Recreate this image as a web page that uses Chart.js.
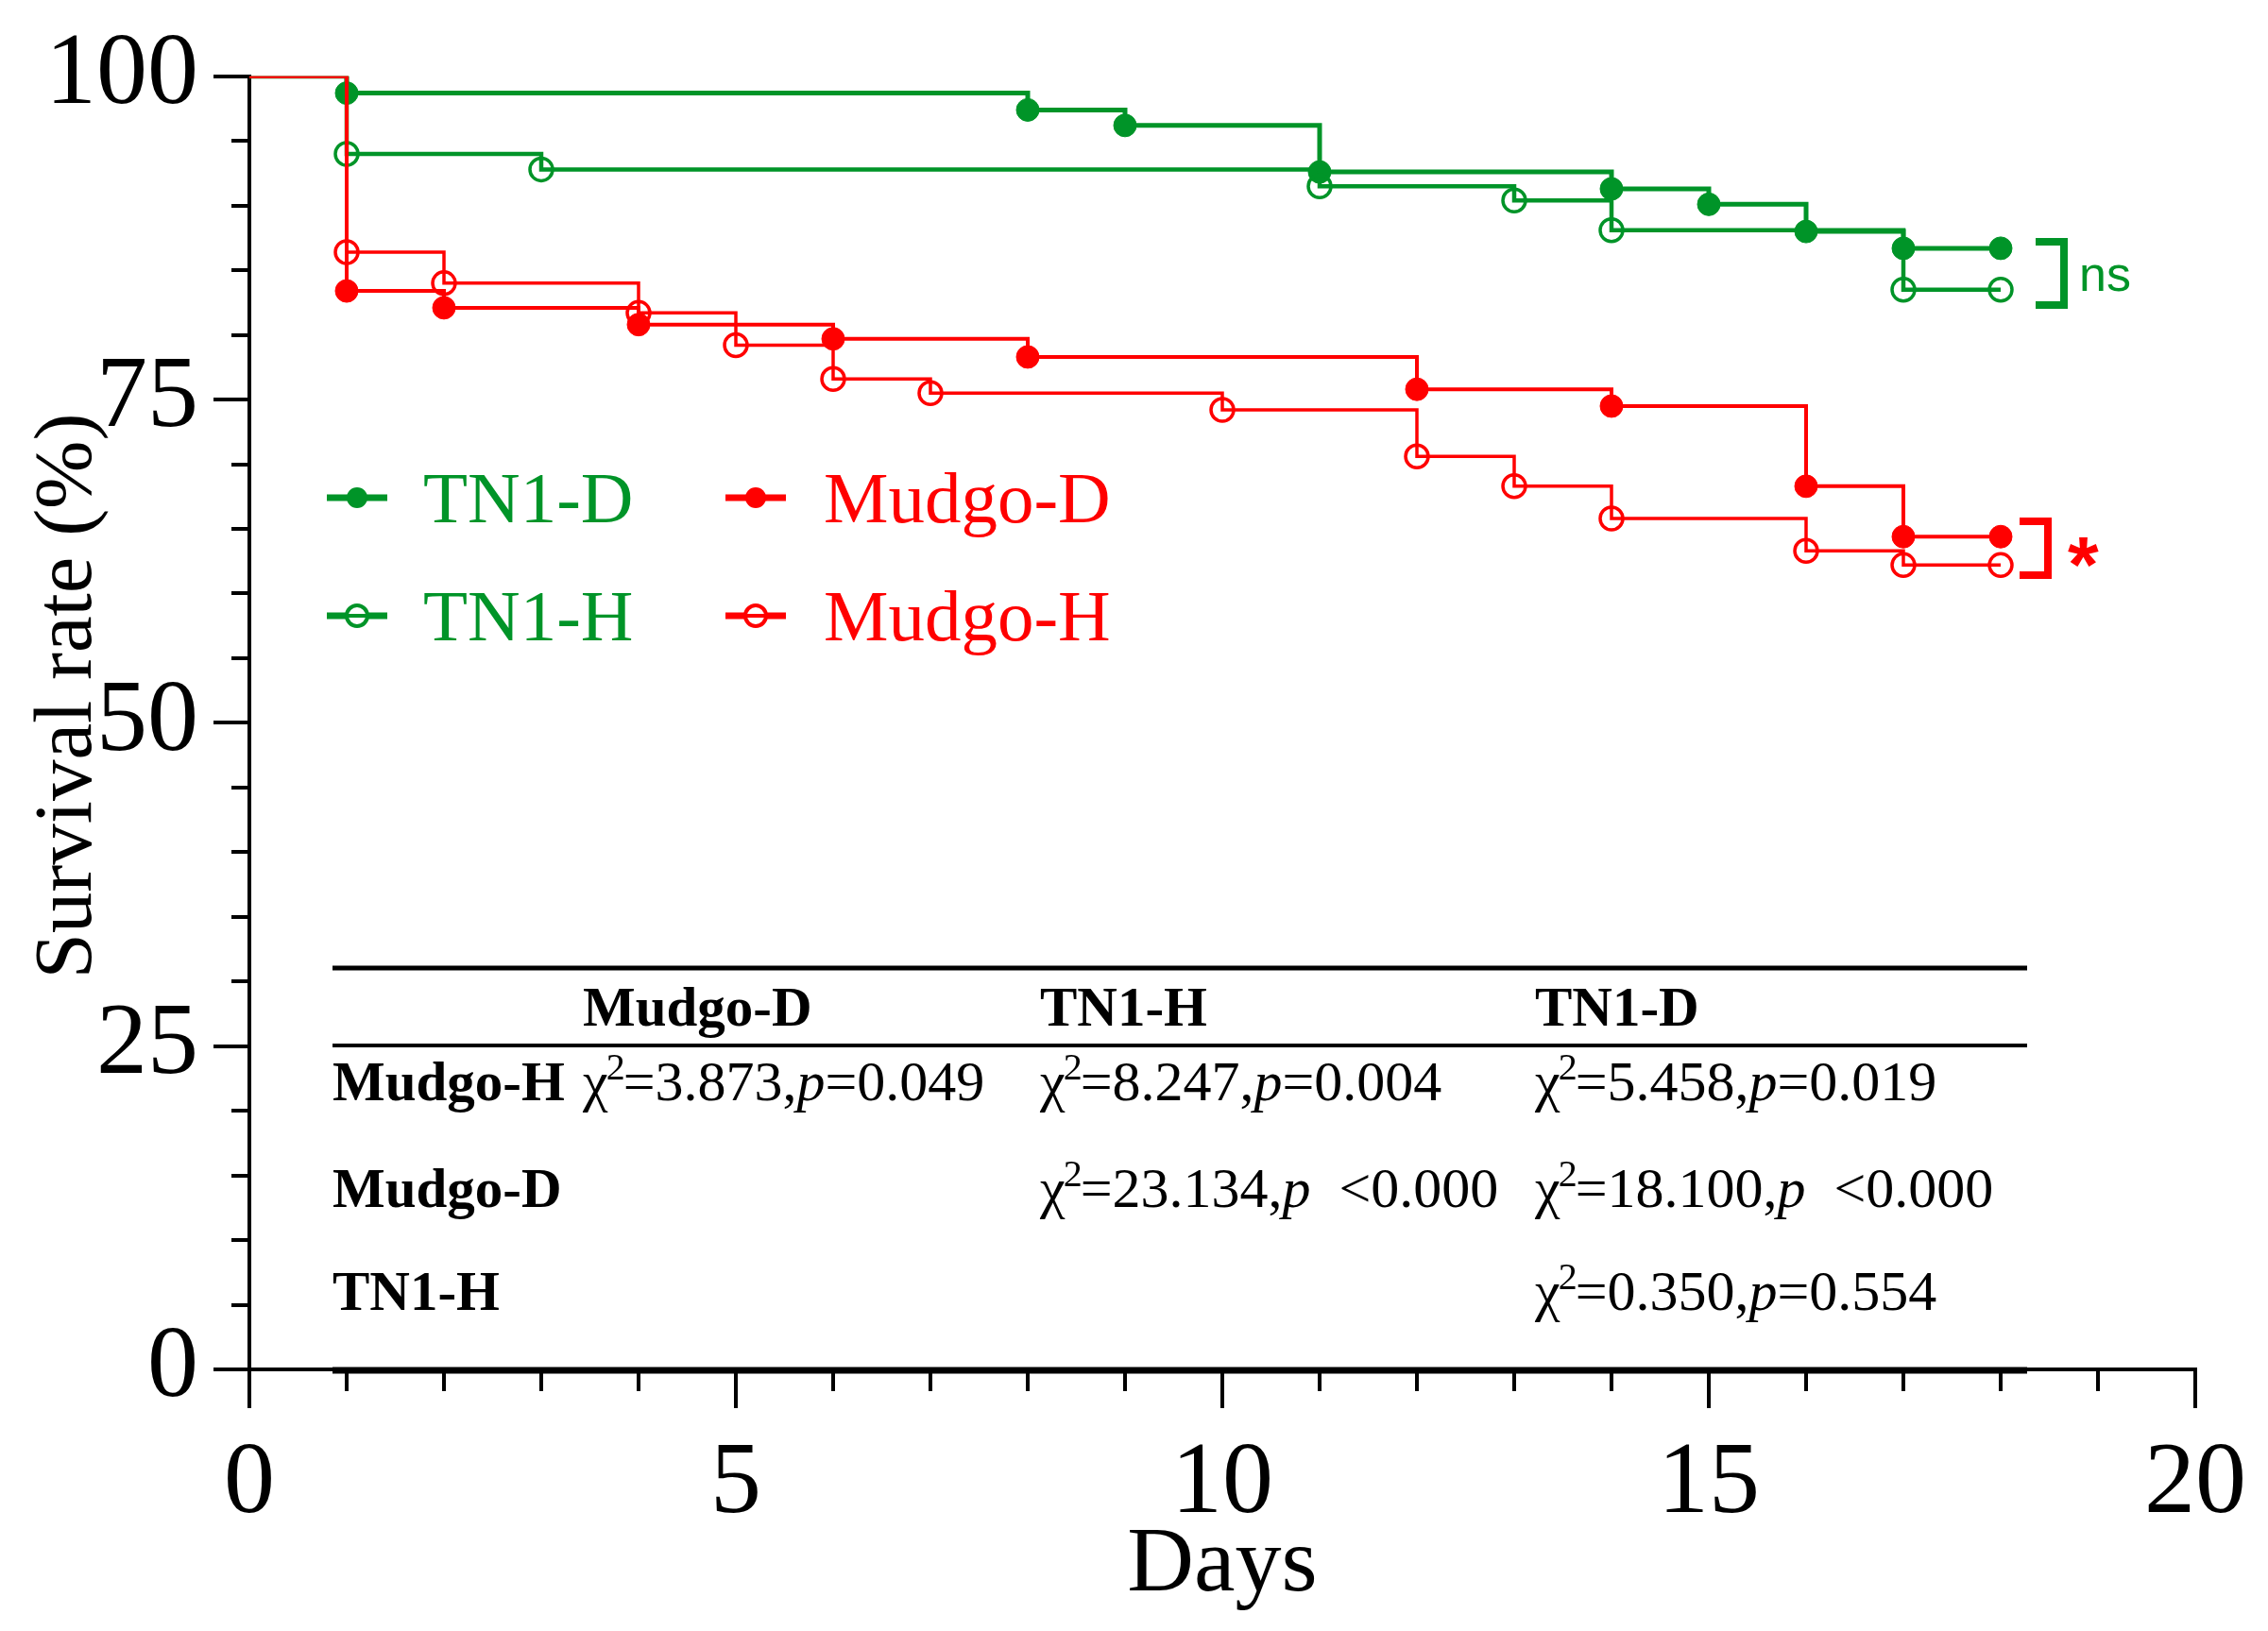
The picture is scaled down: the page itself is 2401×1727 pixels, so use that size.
<!DOCTYPE html>
<html>
<head>
<meta charset="utf-8">
<script src="https://cdn.jsdelivr.net/npm/chart.js@4.4.1/dist/chart.umd.min.js"></script>
<style>
html,body{margin:0;padding:0;background:#fff;}
#wrap{width:2401px;height:1727px;position:relative;}
canvas{display:block;}
</style>
</head>
<body>
<div id="wrap"><canvas id="c" width="2401" height="1727"></canvas></div>
<script>
// ---------- data ----------
const tn1dDays = [0, 1, 8, 9, 11, 14, 15, 16, 17, 18];
const tn1dRate = [100, 98.7, 97.4, 96.2, 92.6, 91.3, 90.1, 88.0, 86.7, 86.7];
const tn1hDays = [0, 1, 3, 11, 13, 14, 17, 18];
const tn1hRate = [100, 94.0, 92.8, 91.5, 90.4, 88.1, 83.5, 83.5];
const mudgoDDays = [0, 1, 2, 4, 6, 8, 12, 14, 16, 17, 18];
const mudgoDRate = [100, 83.4, 82.1, 80.8, 79.7, 78.3, 75.8, 74.5, 68.3, 64.4, 64.4];
const mudgoHDays = [0, 1, 2, 4, 5, 6, 7, 10, 12, 13, 14, 16, 17, 18];
const mudgoHRate = [100, 86.4, 84.0, 81.7, 79.2, 76.6, 75.5, 74.2, 70.6, 68.3, 65.8, 63.3, 62.2, 62.2];

const xTickValues = [0, 5, 10, 15, 20];
const yTickValues = [0, 25, 50, 75, 100];
const legendLabels = ['TN1-D', 'TN1-H', 'Mudgo-D', 'Mudgo-H'];

const tableColumns = ['Mudgo-D', 'TN1-H', 'TN1-D'];
const tableRows = ['Mudgo-H', 'Mudgo-D', 'TN1-H'];
const chiSquare = [['3.873', '8.247', '5.458'], [null, '23.134', '18.100'], [null, null, '0.350']];
const pValues = [['=0.049', '=0.004', '=0.019'], [null, '  <0.000', '  <0.000'], [null, null, '=0.554']];
const sigLabels = ['ns', '*'];

// ---------- styles ----------
const GREEN = '#009428';
const RED = '#ff0000';
const SERIF = '"Liberation Serif", "Times New Roman", serif';

function pts(d, v) { return d.map((x, i) => ({x: x, y: v[i]})); }

function ds(label, d, v, color, filled, lw) {
  return {
    label: label,
    data: pts(d, v),
    stepped: 'before',
    borderColor: color,
    borderWidth: lw,
    fill: false,
    pointRadius: c => c.dataIndex === 0 ? 0 : 12,
    pointHoverRadius: c => c.dataIndex === 0 ? 0 : 12,
    pointBackgroundColor: filled ? color : 'rgba(255,255,255,0)',
    pointBorderColor: color,
    pointBorderWidth: filled ? 1 : 3.5,
    pointStyle: 'circle'
  };
}

const datasets = [
  ds(legendLabels[3], mudgoHDays, mudgoHRate, RED, false, 3.5),
  ds(legendLabels[2], mudgoDDays, mudgoDRate, RED, true, 4),
  ds(legendLabels[1], tn1hDays, tn1hRate, GREEN, false, 4.5),
  ds(legendLabels[0], tn1dDays, tn1dRate, GREEN, true, 5)
];

// minor ticks on both axes
const minorTicks = {
  id: 'minorTicks',
  afterDraw(chart) {
    const ctx = chart.ctx, xs = chart.scales.x, ys = chart.scales.y;
    const a = chart.chartArea;
    ctx.save();
    ctx.strokeStyle = '#000';
    ctx.lineWidth = 4;
    ctx.beginPath();
    for (let d = 1; d < 20; d++) {
      if (d % 5 === 0) continue;
      const px = Math.round(xs.getPixelForValue(d));
      ctx.moveTo(px, a.bottom); ctx.lineTo(px, a.bottom + 23);
    }
    for (let v = 5; v < 100; v += 5) {
      if (v % 25 === 0) continue;
      const py = Math.round(ys.getPixelForValue(v));
      ctx.moveTo(a.left, py); ctx.lineTo(a.left - 19, py);
    }
    ctx.stroke();
    ctx.restore();
  }
};

// y axis title
const yTitle = {
  id: 'yTitle',
  afterDraw(chart) {
    const ctx = chart.ctx;
    ctx.save();
    ctx.translate(96, 737);
    ctx.rotate(-Math.PI / 2);
    ctx.font = '87px ' + SERIF;
    ctx.fillStyle = '#000';
    ctx.textAlign = 'center';
    ctx.textBaseline = 'alphabetic';
    ctx.fillText('Survival rate (%)', 0, 0);
    ctx.restore();
  }
};

// custom two-column legend
const legendPlugin = {
  id: 'kmLegend',
  afterDraw(chart) {
    const ctx = chart.ctx;
    const entries = [
      {label: legendLabels[0], color: GREEN, filled: true, lx: 346, tx: 448, by: 553},
      {label: legendLabels[1], color: GREEN, filled: false, lx: 346, tx: 448, by: 678},
      {label: legendLabels[2], color: RED, filled: true, lx: 768, tx: 872, by: 553},
      {label: legendLabels[3], color: RED, filled: false, lx: 768, tx: 872, by: 678}
    ];
    ctx.save();
    entries.forEach(e => {
      const cy = e.by - 26;
      ctx.strokeStyle = e.color;
      ctx.lineWidth = 7;
      ctx.beginPath();
      ctx.moveTo(e.lx, cy); ctx.lineTo(e.lx + 64, cy);
      ctx.stroke();
      ctx.beginPath();
      ctx.arc(e.lx + 32, cy, 11, 0, Math.PI * 2);
      if (e.filled) { ctx.fillStyle = e.color; ctx.fill(); }
      else { ctx.fillStyle = '#fff'; ctx.fill(); ctx.lineWidth = 4; ctx.stroke();
        ctx.beginPath(); ctx.moveTo(e.lx + 22, cy); ctx.lineTo(e.lx + 42, cy); ctx.lineWidth = 4; ctx.stroke(); }
      ctx.fillStyle = e.color;
      ctx.font = '77px ' + SERIF;
      ctx.textBaseline = 'alphabetic';
      ctx.textAlign = 'left';
      ctx.fillText(e.label, e.tx, e.by);
    });
    ctx.restore();
  }
};

// significance brackets
const bracketPlugin = {
  id: 'brackets',
  afterDraw(chart) {
    const ctx = chart.ctx;
    ctx.save();
    ctx.lineWidth = 8;
    ctx.lineJoin = 'miter';
    ctx.strokeStyle = GREEN;
    ctx.beginPath();
    ctx.moveTo(2155, 256); ctx.lineTo(2185, 256); ctx.lineTo(2185, 323); ctx.lineTo(2155, 323);
    ctx.stroke();
    ctx.fillStyle = GREEN;
    ctx.font = '52px "Liberation Sans", Arial, sans-serif';
    ctx.textBaseline = 'alphabetic';
    ctx.fillText(sigLabels[0], 2201, 308);
    ctx.strokeStyle = RED;
    ctx.beginPath();
    ctx.moveTo(2138, 552); ctx.lineTo(2168, 552); ctx.lineTo(2168, 609); ctx.lineTo(2138, 609);
    ctx.stroke();
    ctx.fillStyle = RED;
    ctx.font = 'bold 84px "Liberation Sans", Arial, sans-serif';
    ctx.fillText(sigLabels[1], 2189, 627);
    ctx.restore();
  }
};

// statistics table
const tablePlugin = {
  id: 'statTable',
  afterDraw(chart) {
    const ctx = chart.ctx;
    const x0 = 352, x1 = 2146;
    const colX = [617, 1101, 1625];
    const headerY = 1086;
    const rowY = [1165, 1278, 1387];
    ctx.save();
    ctx.strokeStyle = '#000';
    ctx.lineWidth = 5;
    ctx.beginPath(); ctx.moveTo(x0, 1025); ctx.lineTo(x1, 1025); ctx.stroke();
    ctx.lineWidth = 4;
    ctx.beginPath(); ctx.moveTo(x0, 1107); ctx.lineTo(x1, 1107); ctx.stroke();
    ctx.lineWidth = 7;
    ctx.beginPath(); ctx.moveTo(x0, 1451); ctx.lineTo(x1, 1451); ctx.stroke();

    ctx.fillStyle = '#000';
    ctx.textBaseline = 'alphabetic';
    ctx.textAlign = 'left';
    ctx.font = 'bold 59px ' + SERIF;
    tableColumns.forEach((c, i) => ctx.fillText(c, colX[i], headerY));
    tableRows.forEach((r, i) => ctx.fillText(r, x0, rowY[i]));

    const base = '60px ' + SERIF;
    for (let r = 0; r < tableRows.length; r++) {
      for (let c = 0; c < tableColumns.length; c++) {
        if (chiSquare[r][c] === null) continue;
        let cx = colX[c];
        const y = rowY[r];
        ctx.font = base;
        ctx.fillText('\u03c7', cx, y); cx += ctx.measureText('\u03c7').width;
        ctx.font = '40px ' + SERIF;
        ctx.fillText('2', cx - 2, y - 22); cx += ctx.measureText('2').width - 4;
        ctx.font = base;
        const s1 = '=' + chiSquare[r][c] + ',';
        ctx.fillText(s1, cx, y); cx += ctx.measureText(s1).width;
        ctx.font = 'italic 60px ' + SERIF;
        ctx.fillText('p', cx, y); cx += ctx.measureText('p').width;
        ctx.font = base;
        ctx.fillText(pValues[r][c], cx, y);
      }
    }
    ctx.restore();
  }
};

const chart = new Chart(document.getElementById('c'), {
  type: 'line',
  data: {datasets: datasets},
  options: {
    responsive: false,
    devicePixelRatio: 1,
    animation: false,
    layout: {padding: {left: 0, top: 73, right: 77, bottom: 0}},
    plugins: {legend: {display: false}, tooltip: {enabled: false}},
    scales: {
      x: {
        type: 'linear',
        min: 0, max: 20,
        afterFit(s) { s.height = 277; },
        afterBuildTicks(s) { s.ticks = xTickValues.map(v => ({value: v})); },
        ticks: {font: {family: SERIF, size: 108}, color: '#000', padding: 17, maxRotation: 0, autoSkip: false},
        grid: {drawOnChartArea: false, drawTicks: true, tickLength: 41, color: '#000', lineWidth: 4},
        border: {display: true, color: '#000', width: 4},
        title: {display: true, text: 'Days', font: {family: SERIF, size: 98}, color: '#000', padding: {top: 0, bottom: 10}}
      },
      y: {
        type: 'linear',
        min: 0, max: 100,
        afterFit(s) { s.width = 264; },
        afterBuildTicks(s) { s.ticks = yTickValues.map(v => ({value: v})); },
        ticks: {font: {family: SERIF, size: 108}, color: '#000', padding: 16, autoSkip: false},
        grid: {drawOnChartArea: false, drawTicks: true, tickLength: 38, color: '#000', lineWidth: 4},
        border: {display: true, color: '#000', width: 4}
      }
    }
  },
  plugins: [minorTicks, yTitle, legendPlugin, bracketPlugin, tablePlugin]
});
</script>
</body>
</html>
